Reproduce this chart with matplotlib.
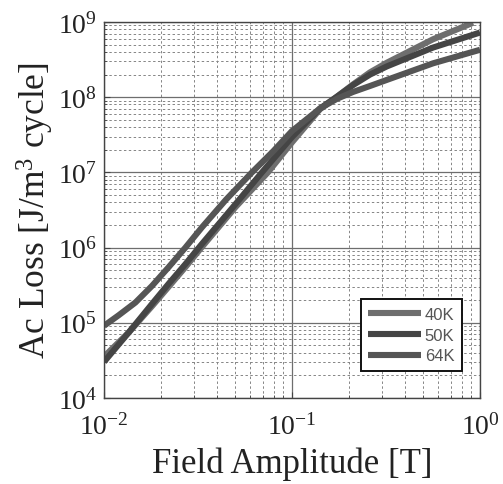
import numpy as np
import matplotlib
matplotlib.use("Agg")
import matplotlib.pyplot as plt

# Field amplitude [T] and AC loss [J/m^3 cycle] per temperature
b_40k = [0.01, 0.01352, 0.01799, 0.02208, 0.02710, 0.03319, 0.05012, 0.07447, 0.1,
         0.1409, 0.1738, 0.2113, 0.2600, 0.3199, 0.5623, 0.9183]
q_40k = [3.55e4, 7.41e4, 1.66e5, 3.02e5, 5.50e5, 1.02e6, 3.47e6, 1.0e7, 2.51e7,
         6.92e7, 1.02e8, 1.48e8, 2.14e8, 2.88e8, 5.89e8, 9.77e8]

b_50k = [0.01, 0.01352, 0.01799, 0.02208, 0.02710, 0.03319, 0.05012, 0.06918, 0.1,
         0.1409, 0.1738, 0.2113, 0.2600, 0.3199, 0.5623, 1.0]
q_50k = [3.02e4, 7.41e4, 1.78e5, 3.31e5, 6.03e5, 1.12e6, 3.80e6, 1.0e7, 2.95e7,
         7.08e7, 1.02e8, 1.45e8, 2.00e8, 2.57e8, 4.57e8, 7.24e8]

b_64k = [0.01, 0.01197, 0.01469, 0.01799, 0.02208, 0.02710, 0.03319, 0.04467, 0.06124,
         0.07943, 0.1, 0.1409, 0.1738, 0.2113, 0.2600, 0.3199, 0.5623, 1.0]
q_64k = [9.12e4, 1.26e5, 1.86e5, 3.09e5, 5.50e5, 1.0e6, 1.86e6, 4.37e6, 1.0e7,
         1.91e7, 3.55e7, 7.08e7, 9.55e7, 1.175e8, 1.41e8, 1.70e8, 2.82e8, 4.27e8]

labels = ["40K", "50K", "64K"]
colors = ["#6e6e6e", "#454545", "#555555"]

plt.rcParams["font.family"] = ["Liberation Serif", "DejaVu Serif"]
plt.rcParams["mathtext.fontset"] = "custom"
plt.rcParams["mathtext.rm"] = "Liberation Serif"
plt.rcParams["mathtext.it"] = "Liberation Serif:italic"

fig = plt.figure(figsize=(5.03, 4.85), dpi=100)
ax = fig.add_axes([104 / 503, 1 - 399 / 485, 376 / 503, 376 / 485])

for b, q, lab, c in zip([b_40k, b_50k, b_64k], [q_40k, q_50k, q_64k], labels, colors):
    ax.plot(b, q, color=c, lw=4.4, label=lab, solid_capstyle="butt",
            solid_joinstyle="round")

ax.set_xscale("log")
ax.set_yscale("log")
ax.set_xlim(1e-2, 1e0)
ax.set_ylim(1e4, 1e9)

ax.grid(True, which="major", color="#6e6e6e", lw=0.9, ls="-")
ax.grid(True, which="minor", color="#858585", lw=0.7, ls=(0, (2.5, 2.5)))
ax.set_axisbelow(True)

ax.tick_params(which="both", direction="in", labelsize=20, colors="#444444",
               labelcolor="#222222")
ax.tick_params(which="major", length=4)
ax.tick_params(which="minor", length=2.5)
ax.tick_params(axis="x", pad=11)
ax.tick_params(axis="y", pad=5)
for s in ax.spines.values():
    s.set_color("#444444")
    s.set_linewidth(1.0)

ax.set_xlabel("Field Amplitude [T]", fontsize=25, color="#222222", labelpad=5)
ax.set_ylabel(r"Ac Loss [J/m$^3$ cycle]", fontsize=25.5, color="#222222", labelpad=1)

leg = ax.legend(loc="lower right", bbox_to_anchor=(0.952, 0.072), frameon=True,
                fancybox=False, framealpha=1, edgecolor="#111111",
                prop={"family": ["Liberation Sans Narrow", "Liberation Sans"], "size": 12},
                handlelength=3.2, handletextpad=0.2, labelspacing=0.35,
                borderpad=0.45, borderaxespad=0)
leg.get_frame().set_linewidth(1.4)
for t in leg.get_texts():
    t.set_color("#555555")

fig.savefig("out.png", dpi=100)
